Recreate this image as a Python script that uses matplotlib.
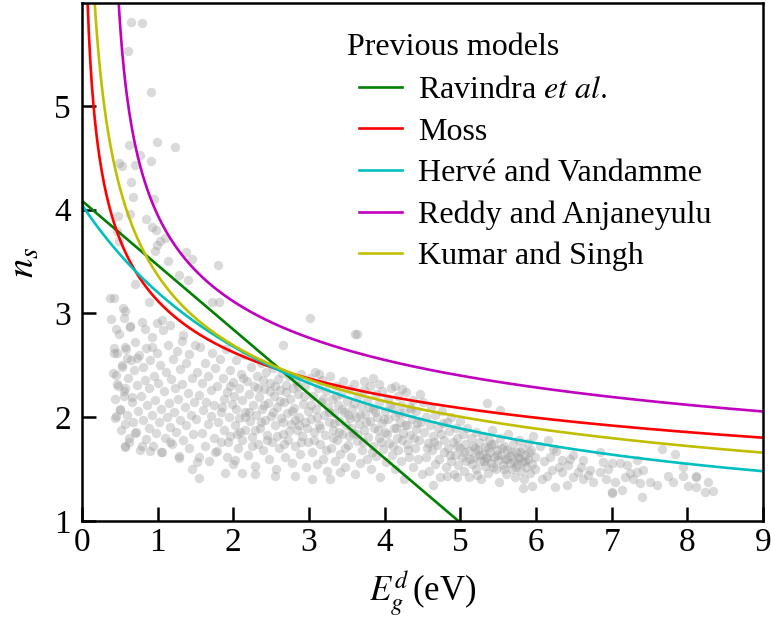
import matplotlib
matplotlib.use('Agg')
import matplotlib.pyplot as plt
import numpy as np

plt.rcParams['font.family'] = ['Liberation Serif', 'DejaVu Serif']
plt.rcParams['mathtext.fontset'] = 'stix'

# scattered data points (Eg in eV, n)
outliers = [(0.65,5.81),(0.79,5.80),(0.61,5.53),(0.91,5.13),(0.62,4.62),(0.99,4.65),(1.23,4.60),
            (0.49,4.45),(0.53,4.42),(0.70,4.43),(0.91,4.47),(0.77,4.53),(0.65,4.27),(0.67,4.12),
            (0.95,4.10),(0.48,3.94),(0.63,3.96),(0.85,3.91),(0.92,3.83),(0.98,3.80),(1.10,3.73),
            (1.03,3.70),(0.99,3.66),(0.96,3.60),(1.14,3.50),(1.37,3.59),(1.45,3.52),(1.80,3.47),
            (0.49,3.70),(0.46,3.79),(0.37,3.15),(0.42,3.15),(0.70,3.28),(1.28,3.37),(1.40,3.32),
            (1.72,3.11),(1.81,3.11),(0.88,3.11),(0.57,3.02),(0.55,2.96),(0.45,2.85),(0.63,2.87),
            (0.83,2.85),(0.99,2.91),(1.06,2.94),(1.16,2.89),(1.32,2.73),(0.42,2.67),(0.42,2.62),
            (0.57,2.68),(0.92,2.68),(0.59,2.57),(0.73,2.57),(0.53,2.48),(0.45,2.41),(0.46,2.32),
            (0.57,2.28),(0.55,2.20),(0.66,2.19),(0.50,2.07),(0.45,2.01),(0.57,1.93),(0.70,1.85),
            (0.62,1.76),(0.57,1.71),(0.79,1.72),(0.90,1.67),(1.04,1.66),(1.16,1.76),(1.28,1.61),
            (1.45,1.50),(1.55,1.41),(1.52,1.57),(1.76,1.66),(1.89,1.46),(2.02,1.59),
            (3.63,2.80),(2.66,2.70),(3.01,2.96),(3.61,2.80),(3.84,2.38),(4.23,2.27),(5.35,2.14),
            (5.52,2.07),(2.29,1.45),(2.55,1.43),(2.81,1.43),(3.04,1.40),(3.28,1.40),(3.41,1.47),
            (2.11,1.46),(4.64,1.35),(4.95,1.42),(5.83,1.32),(5.94,1.34),(4.82,1.43)]

cloud_left = [(0.38,2.95),(0.41,2.43),(0.43,2.18),(0.44,1.99),(0.46,2.62),(0.47,2.30),(0.49,2.80),
              (0.50,2.08),(0.52,1.88),(0.53,2.50),(0.54,3.05),(0.56,2.25),(0.57,1.72),(0.58,2.66),
              (0.60,2.02),(0.61,2.38),(0.62,1.80),(0.63,2.88),(0.65,2.55),(0.66,2.15),(0.67,1.95),
              (0.69,2.45),(0.70,2.72),(0.71,1.86),(0.72,2.31),(0.74,2.06),(0.75,2.60),(0.76,1.68),
              (0.78,2.20),(0.79,2.92),(0.80,1.97),(0.81,2.48),(0.83,2.36),(0.84,1.79),(0.85,2.67),
              (0.86,2.12),(0.88,2.28),(0.89,1.90),(0.90,2.55),(0.92,2.02),(0.93,2.77),(0.94,1.72),
              (0.95,2.40),(0.97,2.17),(0.98,1.85),(0.99,2.62),(1.01,2.33),(1.02,1.95),(1.03,2.50),
              (1.05,2.08),(1.06,1.66),(1.07,2.84),(1.08,2.25),(1.10,1.80),(1.11,2.44),(1.12,2.00),
              (1.14,2.70),(1.15,2.14),(1.16,1.91),(1.18,2.37),(1.19,1.74),(1.20,2.56),(1.21,2.05),
              (1.23,2.28),(1.24,1.86),(1.25,2.64),(1.27,2.18),(1.28,1.63),(1.29,2.46),(1.30,1.97),
              (1.32,2.32),(1.33,2.79),(1.34,1.78),(1.36,2.10),(1.37,2.52),(1.38,1.92),(1.40,2.23),
              (1.41,1.70),(1.42,2.61),(1.44,2.02),(1.45,2.38),(1.46,1.84),(1.48,2.15),(1.49,2.70)]

cloud_mid = [(1.51,1.98),(1.52,2.44),(1.54,1.62),(1.55,2.21),(1.56,2.68),(1.58,1.85),(1.59,2.33),
             (1.60,2.07),(1.62,1.72),(1.63,2.52),(1.64,2.15),(1.66,1.93),(1.67,2.40),(1.68,1.58),
             (1.70,2.26),(1.71,2.01),(1.72,2.62),(1.74,1.80),(1.75,2.12),(1.76,2.47),(1.78,1.67),
             (1.79,2.30),(1.80,1.95),(1.82,2.56),(1.83,2.05),(1.84,1.76),(1.86,2.38),(1.87,2.18),
             (1.88,1.88),(1.90,2.66),(1.91,1.62),(1.92,2.24),(1.94,2.00),(1.95,2.45),(1.96,1.82),
             (1.98,2.13),(1.99,1.55),(2.00,2.34),(2.02,1.92),(2.03,2.55),(2.04,2.08),(2.06,1.70),
             (2.07,2.28),(2.08,1.99),(2.10,2.42),(2.11,1.78),(2.12,2.17),(2.14,2.60),(2.15,1.88),
             (2.16,2.05),(2.18,2.35),(2.19,1.64),(2.20,2.22),(2.22,1.96),(2.23,2.48),(2.24,1.81),
             (2.26,2.12),(2.27,2.30),(2.28,1.53),(2.30,2.02),(2.31,2.40),(2.32,1.74),(2.34,2.19),
             (2.35,1.90),(2.36,2.52),(2.38,2.08),(2.39,1.68),(2.40,2.27),(2.42,1.97),(2.43,2.44),
             (2.44,1.83),(2.46,2.14),(2.47,1.60),(2.48,2.33),(2.50,2.01),(2.51,1.76),(2.52,2.47),
             (2.54,2.20),(2.55,1.92),(2.56,1.50),(2.58,2.10),(2.59,2.37),(2.60,1.70),(2.62,2.26),
             (2.63,1.99),(2.64,2.43),(2.66,1.84),(2.67,2.15),(2.68,1.62),(2.70,2.31),(2.71,2.04),
             (2.72,1.78),(2.74,2.40),(2.75,2.18),(2.76,1.93),(2.78,1.56),(2.79,2.28),(2.80,2.09),
             (2.82,1.72),(2.83,2.35),(2.84,1.88),(2.86,2.22),(2.87,2.00),(2.88,1.65),(2.90,2.42),
             (2.91,1.82),(2.92,2.13),(2.94,1.95),(2.95,2.30),(2.96,1.52),(2.98,2.06),(2.99,1.76)]

cloud_right = [(3.01,2.38),(3.02,1.98),(3.04,1.66),(3.05,2.20),(3.06,1.86),(3.08,2.44),(3.09,2.08),
               (3.10,1.55),(3.12,2.28),(3.13,1.92),(3.14,1.74),(3.16,2.15),(3.17,2.36),(3.18,1.60),
               (3.20,2.02),(3.21,1.83),(3.22,2.25),(3.24,1.48),(3.25,2.10),(3.26,1.95),(3.28,2.40),
               (3.29,1.70),(3.30,2.18),(3.32,1.88),(3.33,2.04),(3.34,1.58),(3.36,2.30),(3.37,1.78),
               (3.38,2.12),(3.40,1.96),(3.41,1.65),(3.42,2.22),(3.44,1.84),(3.45,2.35),(3.46,2.05),
               (3.48,1.52),(3.49,1.92),(3.50,2.16),(3.52,1.73),(3.53,2.27),(3.54,1.99),(3.56,1.62),
               (3.57,2.08),(3.58,1.85),(3.60,2.32),(3.61,1.45),(3.62,2.00),(3.64,1.77),(3.65,2.20),
               (3.66,1.93),(3.68,1.56),(3.69,2.11),(3.70,1.68),(3.72,2.26),(3.73,1.88),(3.74,2.03),
               (3.76,1.60),(3.77,2.17),(3.78,1.81),(3.80,1.96),(3.81,2.30),(3.82,1.50),(3.84,2.08),
               (3.85,1.72),(3.86,1.90),(3.88,2.22),(3.89,1.63),(3.90,2.00),(3.92,1.80),(3.93,2.14),
               (3.94,1.42),(3.96,1.94),(3.97,2.25),(3.98,1.69),(4.00,2.06),(4.01,1.86),(4.02,1.57),
               (4.04,2.18),(4.05,1.98),(4.06,1.75),(4.08,2.28),(4.09,1.64),(4.10,2.09),(4.12,1.90),
               (4.13,1.50),(4.14,2.01),(4.16,1.80),(4.17,2.20),(4.18,1.68),(4.20,1.95),(4.21,2.12),
               (4.22,1.58),(4.24,1.85),(4.25,2.04),(4.26,1.40),(4.28,2.24),(4.29,1.74),(4.30,1.92),
               (4.32,1.62),(4.33,2.10),(4.34,1.83),(4.36,1.98),(4.37,1.52),(4.38,2.17),(4.40,1.70),
               (4.41,1.89),(4.42,2.06),(4.44,1.60),(4.45,1.78),(4.46,2.22),(4.48,1.95),(4.49,1.45)]

cloud_core = [(1.85,2.10),(1.93,1.76),(2.01,2.20),(2.09,1.86),(2.13,2.38),(2.21,2.05),(2.25,1.72),
              (2.33,2.28),(2.37,1.95),(2.41,2.12),(2.45,1.78),(2.49,2.25),(2.53,2.05),(2.57,1.82),
              (2.61,2.16),(2.65,1.95),(2.69,2.24),(2.73,1.87),(2.77,2.06),(2.81,1.97),(2.85,2.30),
              (2.89,1.76),(2.93,2.20),(2.97,1.90),(3.03,2.12),(3.07,1.78),(3.11,2.00),(3.15,1.90),
              (3.19,2.18),(3.23,1.68),(3.27,2.05),(3.31,1.80),(3.35,2.20),(3.39,1.86),(3.43,2.08),
              (3.47,1.70),(3.51,2.02),(3.55,1.90),(3.59,2.14),(3.63,1.84),(3.67,2.02),(3.71,1.76),
              (3.75,1.95),(3.79,2.10),(3.83,1.66),(3.87,2.05),(3.91,1.88),(3.95,1.76),(3.99,1.98),
              (4.03,1.84),(4.07,2.12),(4.11,1.72),(4.15,1.90),(4.19,2.04),(4.23,1.78),(4.27,1.92),
              (4.31,1.68),(4.35,2.08),(4.39,1.80),(4.43,1.94),(1.95,2.30),(2.05,1.84),(2.15,2.00),
              (2.29,1.88),(2.39,2.36),(2.55,2.30),(2.67,1.74),(2.87,1.92),(3.13,2.42),(3.33,1.94),
              (3.53,1.82),(3.73,2.35),(3.93,2.32),(4.13,2.30)]

cloud_blob = [(4.51,2.15),(4.52,1.86),(4.54,1.62),(4.55,2.00),(4.57,1.75),(4.58,1.48),(4.60,1.92),
              (4.61,2.10),(4.63,1.68),(4.64,1.82),(4.66,1.55),(4.67,2.02),(4.69,1.73),(4.70,1.90),
              (4.72,1.60),(4.73,1.42),(4.75,1.84),(4.76,2.06),(4.78,1.66),(4.79,1.78),(4.81,1.52),
              (4.82,1.95),(4.84,1.70),(4.85,1.87),(4.87,1.58),(4.88,2.00),(4.90,1.76),(4.91,1.45),
              (4.93,1.64),(4.94,1.90),(4.96,1.80),(4.97,1.54),(4.99,1.70),(5.00,1.96),(5.02,1.62),
              (5.03,1.84),(5.05,1.48),(5.06,1.74),(5.08,1.58),(5.09,1.90),(5.11,1.67),(5.12,1.42),
              (5.14,1.80),(5.15,1.55),(5.17,1.72),(5.18,1.62),(5.20,1.86),(5.21,1.50),(5.23,1.68),
              (5.24,1.76),(5.26,1.58),(5.27,1.40),(5.29,1.65),(5.30,1.82),(5.32,1.53),(5.33,1.71),
              (5.35,1.61),(5.36,1.46),(5.38,1.78),(5.39,1.66),(5.41,1.56),(5.42,1.88),(5.44,1.62),
              (5.45,1.74),(5.47,1.50),(5.48,1.68),(5.50,1.59),(5.51,1.38),(5.53,1.80),(5.54,1.64),
              (5.56,1.54),(5.57,1.72),(5.59,1.60),(5.60,1.45),(5.62,1.68),(5.63,1.84),(5.65,1.56),
              (5.66,1.63),(5.68,1.50),(5.69,1.74),(5.71,1.58),(5.72,1.42),(5.74,1.66),(5.75,1.55),
              (5.77,1.78),(5.78,1.61),(5.80,1.48),(5.81,1.70),(5.83,1.57),(5.84,1.40),(5.86,1.64),
              (5.87,1.52),(5.89,1.75),(5.90,1.60),(5.92,1.46),(5.93,1.68),(5.95,1.55),(5.96,1.82),
              (5.98,1.50),(5.99,1.62),(5.05,1.66),(5.13,1.60),(5.19,1.70),(5.25,1.64),(5.31,1.58),
              (5.37,1.70),(5.43,1.52),(5.49,1.64),(5.55,1.70),(5.61,1.60),(5.67,1.66),(5.73,1.52),
              (5.79,1.66),(5.85,1.58),(5.91,1.66),(5.22,1.44),(5.40,1.74),(5.58,1.50),(5.76,1.62),
              (5.34,1.62),(4.95,1.72),(4.86,1.64),(4.77,1.94),(4.65,1.76),(4.56,1.70)]

cloud_tail = [(7.67,1.69),(7.83,1.65),(7.94,1.52),(8.12,1.43),(8.01,1.34),(8.12,1.33),(7.40,1.23),
              (7.74,1.43),(7.60,1.35),(7.50,1.38),(7.37,1.37),(7.28,1.40),(7.34,1.47),(7.41,1.49),
              (7.13,1.30),(7.01,1.28),(7.04,1.38),(7.17,1.42),(7.24,1.46),(7.11,1.56),(7.00,1.56),
              (6.88,1.57),(6.84,1.47),(6.93,1.40),(6.75,1.38),(6.62,1.40),(6.71,1.49),(6.60,1.52),
              (6.49,1.42),(6.41,1.35),(6.25,1.33),(6.34,1.47),(6.42,1.54),(6.34,1.59),(6.49,1.64),
              (6.62,1.59),(6.84,1.66),(7.20,1.54),(7.33,1.59),(6.22,1.69),(6.16,1.78),(6.27,1.67),
              (6.21,1.49),(6.14,1.43),(7.94,1.43),(7.81,1.38),(8.12,1.42),(8.23,1.28),(8.34,1.29),
              (8.27,1.38),(7.01,1.27),(6.05,1.72),(6.10,1.58),(6.18,1.62),(6.30,1.52),(6.55,1.47),
              (6.08,1.40),(6.45,1.60),(6.68,1.44),(6.95,1.50)]

# previous empirical models n(Eg) with their published constants
ravindra = [4.084, -0.62]         # n = a + b*Eg
moss_k = 95.0                      # n^4 * Eg = k
herve = [13.6, 3.47]               # n^2 = 1 + (A/(Eg+B))^2
reddy = [154.0, 0.365]             # n^4 * (Eg - c) = k
kumar = [3.3668, -0.32234]         # n = K * Eg^C

model_names = ['Ravindra $\\mathit{et\\ al.}$', 'Moss', 'Hervé and Vandamme',
               'Reddy and Anjaneyulu', 'Kumar and Singh']
model_colors = ['g', 'r', 'c', 'm', 'y']

fig = plt.figure(figsize=(7.71, 6.17), dpi=100)
ax = fig.add_axes([0.1064, 0.1556, 0.8833, 0.8395])

pts = np.array(outliers + cloud_left + cloud_mid + cloud_right + cloud_core + cloud_blob + cloud_tail)
ax.scatter(pts[:, 0], pts[:, 1], s=46, color='#999999', alpha=0.36, linewidths=0, zorder=1)

eg = np.linspace(0.0, 9.0, 900)
eg_pos = np.linspace(0.02, 9.0, 900)
eg_reddy = np.linspace(0.40, 9.0, 900)

lw = 1.9
ax.plot(eg, ravindra[0] + ravindra[1] * eg, color=model_colors[0], lw=lw, label=model_names[0])
ax.plot(eg_pos, (moss_k / eg_pos) ** 0.25, color=model_colors[1], lw=lw, label=model_names[1])
ax.plot(eg, np.sqrt(1 + (herve[0] / (eg + herve[1])) ** 2), color=model_colors[2], lw=lw, label=model_names[2])
ax.plot(eg_reddy, (reddy[0] / (eg_reddy - reddy[1])) ** 0.25, color=model_colors[3], lw=lw, label=model_names[3])
ax.plot(eg_pos, kumar[0] * eg_pos ** kumar[1], color=model_colors[4], lw=lw, label=model_names[4])

ax.set_xlim(0, 9)
ax.set_ylim(1, 5.99)
ax.set_xticks(range(0, 10))
ax.set_yticks([1, 2, 3, 4, 5])
ax.tick_params(direction='in', length=10, width=1.8, labelsize=24, top=False, right=False)
ax.tick_params(axis='y', pad=8)
ax.tick_params(axis='x', pad=5)
for sp in ax.spines.values():
    sp.set_linewidth(1.8)

ax.set_xlabel('$E_g^d\\,$(eV)', fontsize=25, labelpad=7)
ax.set_ylabel('$n_s$', fontsize=28, labelpad=8)

# legend title sits a bit left of the entries
ax.text(0.389, 0.915, 'Previous models', transform=ax.transAxes, fontsize=23,
        ha='left', va='center')
leg = ax.legend(loc='upper left', bbox_to_anchor=(0.369, 0.909),
                frameon=False, fontsize=23, handlelength=1.35,
                handletextpad=0.5, labelspacing=0.38, borderpad=0.3)

fig.savefig('out.png', dpi=100)
